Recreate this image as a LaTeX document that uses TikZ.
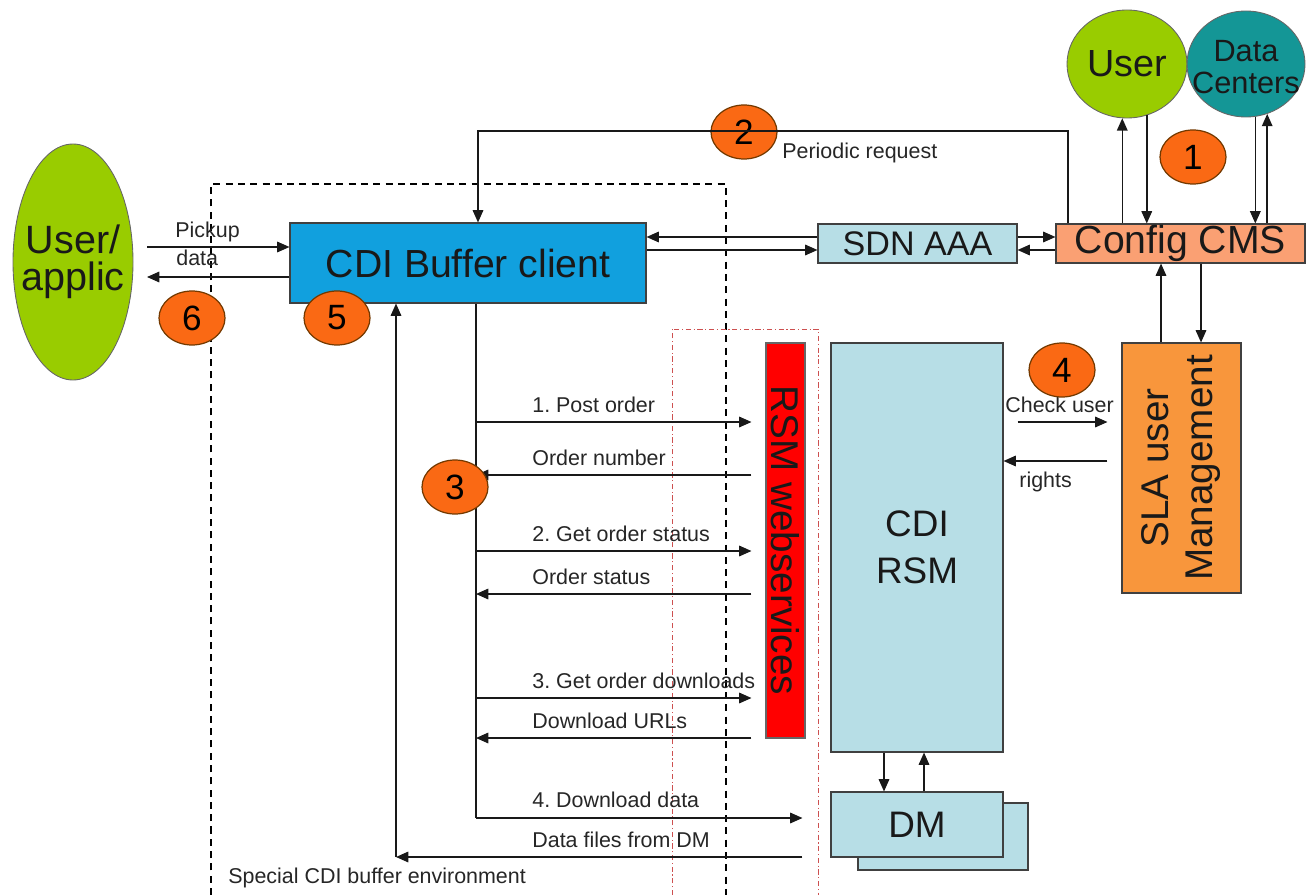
\documentclass[tikz,border=0pt]{standalone}
\usepackage{fontspec}
\setmainfont{Liberation Sans}
\usepackage{graphicx}
\usetikzlibrary{arrows.meta, calc, positioning, shapes.geometric}

\definecolor{bufblue}{RGB}{17,160,222}
\definecolor{paleblue}{RGB}{183,222,230}
\definecolor{cmsorange}{RGB}{250,160,115}
\definecolor{slaorange}{RGB}{248,150,60}
\definecolor{limegreen}{RGB}{153,204,0}
\definecolor{tealdc}{RGB}{20,150,150}
\definecolor{badgeorange}{RGB}{250,105,20}
\definecolor{dashred}{RGB}{205,80,80}

\begin{document}
\frenchspacing
\begin{tikzpicture}[x=0.02cm, y=-0.02cm,
    box/.style={draw=black!75, line width=0.6pt, inner sep=0pt, text=black!90},
    blob/.style={ellipse, draw=black!60, line width=0.5pt, inner sep=0pt},
    blobtext/.style={align=center, inner sep=0pt, text=black!90},
    badge/.style={ellipse, draw=black!55!orange, fill=badgeorange, line width=0.7pt, inner sep=0pt,
        minimum width=66*0.02cm, minimum height=54*0.02cm, font=\fontsize{20}{20}\selectfont},
    arr/.style={-{Triangle[length=7pt,width=6pt]}, line width=0.85pt, black!90},
    lbl/.style={anchor=west, inner sep=0pt, text=black!85, font=\fontsize{12.2}{14}\selectfont},
    big/.style={font=\fontsize{22.3}{24}\selectfont}]
    \useasboundingbox (0,0) rectangle (1314,895);

    % Environments
    \draw[line width=0.7pt, dash pattern=on 4pt off 3pt] (211,895) -- (211,184) -- (726,184) -- (726,895);
    \draw[dashred, line width=0.5pt, dash pattern=on 3pt off 1.5pt on 0.6pt off 1.5pt] (672,895) -- (672,329) -- (818,329) -- (818,895);
    \node[lbl] (envlbl) at (228,878) {Special CDI buffer environment};

    % Actors
    \node[blob, fill=limegreen, minimum width=120*0.02cm, minimum height=236*0.02cm] (userapp) at (73,262) {};
    \node[blobtext, font=\fontsize{22.5}{21}\selectfont] at (userapp.center) {User/\\applic};
    \node[blob, fill=limegreen, minimum width=120*0.02cm, minimum height=108*0.02cm] (user) at (1127,64) {};
    \node[blobtext, font=\fontsize{21.5}{22}\selectfont] at (user.center) {User};
    \node[blob, fill=tealdc, minimum width=118*0.02cm, minimum height=106*0.02cm] (datacenters) at (1246,64) {};
    \node[blobtext, font=\fontsize{17.5}{18.5}\selectfont] at ([yshift=-0.06cm]datacenters.center) {Data\\Centers};

    % Components
    \node[box, fill=bufblue, minimum width=356*0.02cm, minimum height=80*0.02cm, big] (buffer) at (468,263) {CDI Buffer client};
    \node[box, fill=paleblue, minimum width=199*0.02cm, minimum height=39*0.02cm,
        font=\fontsize{19.4}{20}\selectfont] (sdn) at (917.5,243.5) {SDN AAA};
    \node[box, fill=cmsorange, minimum width=249*0.02cm, minimum height=39*0.02cm, big] (config) at (1180.5,243.5) {Config CMS};
    \node[box, fill=red, draw=black!60, minimum width=39*0.02cm, minimum height=395*0.02cm] (rsmws) at (785.5,540.5)
        {\rotatebox{-90}{\fontsize{22}{24}\selectfont RSM webservices}};
    \node[box, fill=paleblue, minimum width=172*0.02cm, minimum height=409*0.02cm, align=center,
        font=\fontsize{21}{27}\selectfont] (cdirsm) at (917,547.5) {CDI\\RSM};
    \node[box, fill=slaorange, minimum width=119*0.02cm, minimum height=250*0.02cm] (sla) at (1181.5,468)
        {\rotatebox{90}{\fontsize{22}{25}\selectfont\begin{tabular}{@{}c@{}}SLA user\\Management\end{tabular}}};
    \node[box, fill=paleblue, minimum width=170*0.02cm, minimum height=67*0.02cm] (dmshadow) at (943,836.5) {};
    \node[box, fill=paleblue, minimum width=172*0.02cm, minimum height=65*0.02cm,
        font=\fontsize{21}{22}\selectfont] (dm) at (917,824.5) {DM};

    \node[badge] (b2) at (744,132) {2};

    % Periodic request
    \coordinate (prTop) at (1068,131);
    \coordinate (prLeft) at (478,131);
    \draw[arr] (config.north -| prTop) -- (prTop) -- (prLeft) -- (buffer.north -| prLeft);
    \node[lbl] (prlbl) at (782,153) {Periodic request};

    % Buffer <-> SDN <-> Config
    \draw[arr] (sdn.west |- 0,237) -- (buffer.east |- 0,237);
    \draw[arr] (buffer.east |- 0,250) -- (sdn.west |- 0,250);
    \draw[arr] (sdn.east |- 0,237) -- (config.west |- 0,237);
    \draw[arr] (config.west |- 0,250) -- (sdn.east |- 0,250);

    % Config <-> User, Data Centers
    \draw[arr] (user.-95 |- config.north) -- (user.-95);
    \draw[arr] (user.-69) -- (user.-69 |- config.north);
    \draw[arr] (datacenters.-80) -- (datacenters.-80 |- config.north);
    \draw[arr] (datacenters.-67 |- config.north) -- (datacenters.-67);

    % Config <-> SLA
    \draw[arr] (sla.north -| 1161,0) -- (config.south -| 1161,0);
    \draw[arr] (config.south -| 1201,0) -- (sla.north -| 1201,0);

    % User/applic <-> Buffer
    \coordinate (pickup) at (147,247);
    \coordinate (handback) at (147,277);
    \draw[arr] (pickup) -- (buffer.west |- pickup);
    \draw[arr] (buffer.west |- handback) -- (handback);
    \node[lbl] (pklbl) at (175,232) {Pickup};
    \node[lbl] (dtlbl) at (176,258) {data};

    % Buffer <-> RSM webservices
    \coordinate (lane) at (476,818);
    \draw[line width=0.85pt, black!90] (buffer.south -| lane) -- (lane);
    \foreach \y/\txt in {422/1. Post order, 551/2. Get order status, 698/3. Get order downloads} {
        \draw[arr, shorten >=0.28cm] (lane |- 0,\y) -- (rsmws.west |- 0,\y);
        \node[lbl] at (532,\y-17) {\txt};
    }
    \foreach \y/\txt in {475/Order number, 594/Order status, 738/Download URLs} {
        \draw[arr, shorten <=0.28cm] (rsmws.west |- 0,\y) -- (lane |- 0,\y);
        \node[lbl] at (532,\y-17) {\txt};
    }

    % Buffer <-> DM
    \coordinate (dmback) at (396,857);
    \draw[arr, shorten >=0.56cm] (lane) -- (dm.west |- lane);
    \node[lbl] (ddlbl) at (532,800) {4. Download data};
    \draw[arr, shorten <=0.56cm] (dm.west |- dmback) -- (dmback);
    \draw[arr] (dmback) -- (buffer.south -| dmback);
    \node[lbl] (dflbl) at (532,840) {Data files from DM};

    % CDI RSM <-> DM
    \draw[arr] (cdirsm.south -| 884,0) -- (dm.north -| 884,0);
    \draw[arr] (dm.north -| 924,0) -- (cdirsm.south -| 924,0);

    % CDI RSM <-> SLA
    \draw[arr, shorten <=0.28cm, shorten >=0.28cm] (cdirsm.east |- 0,422) -- (sla.west |- 0,422);
    \draw[arr, shorten <=0.28cm] (sla.west |- 0,461) -- (cdirsm.east |- 0,461);
    \node[lbl] (cklbl) at (1005,405) {Check user};
    \node[lbl] (rtlbl) at (1019,482) {rights};

    % Steps
    \node[badge] (b1) at (1193,157) {1};
    \node[badge] (b3) at (455,487) {3};
    \node[badge] (b4) at (1062,370) {4};
    \node[badge] (b5) at (337,318) {5};
    \node[badge] (b6) at (192,318) {6};
\end{tikzpicture}
\end{document}
